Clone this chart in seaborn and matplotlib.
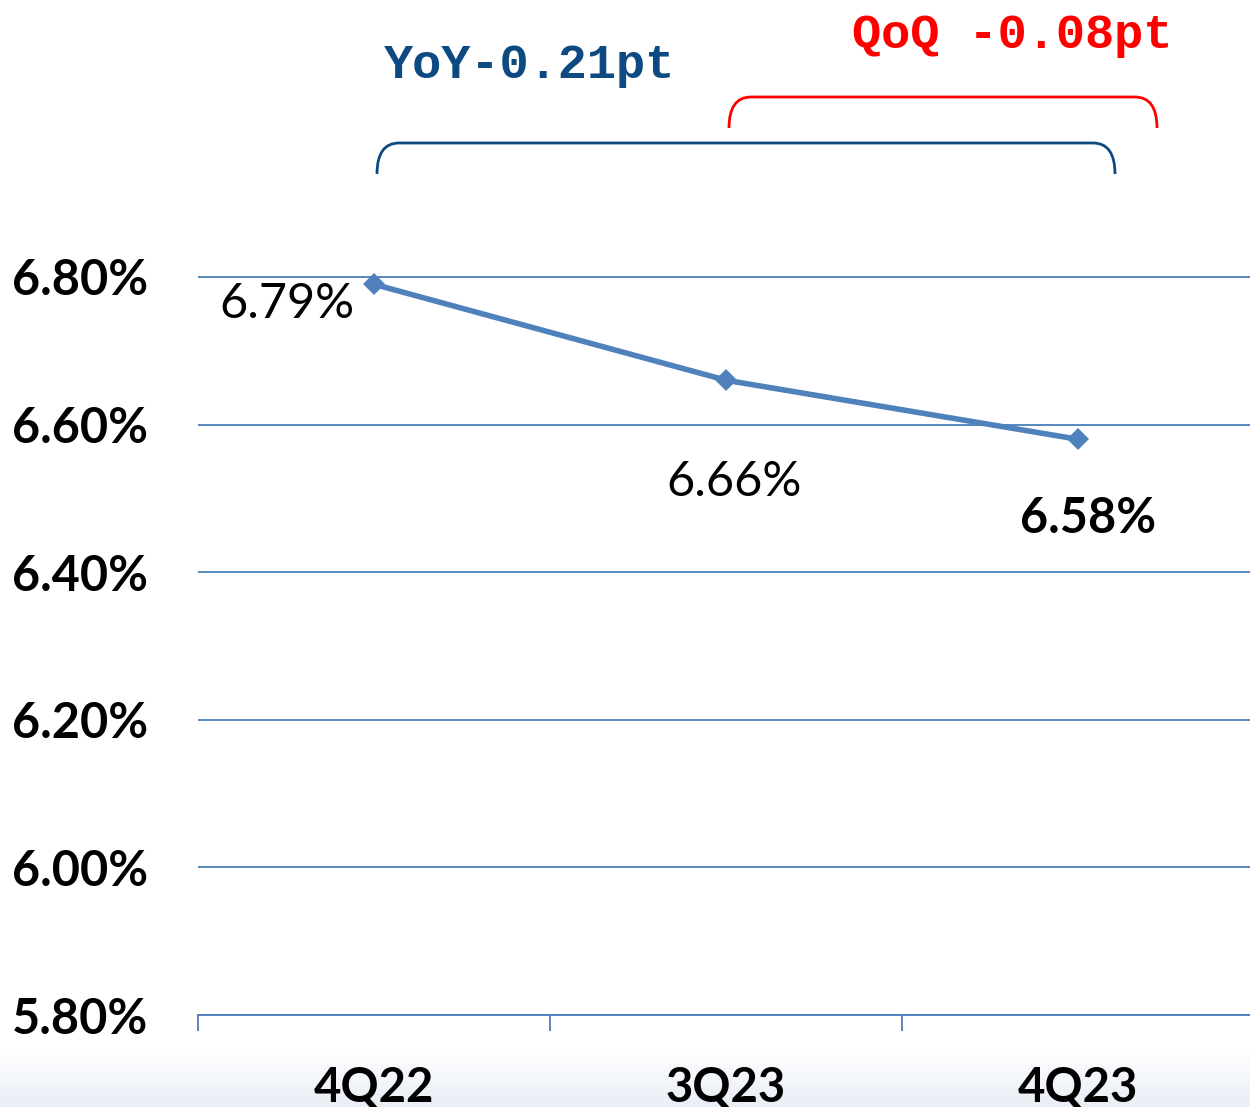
import matplotlib
matplotlib.use("Agg")
import matplotlib.pyplot as plt
import matplotlib.path as mpath
import matplotlib.patches as mpatches
import seaborn as sns
import pandas as pd
import numpy as np

# data
quarters = ["4Q22", "3Q23", "4Q23"]
ratio = [6.79, 6.66, 6.58]
yticks = [5.8, 6.0, 6.2, 6.4, 6.6, 6.8]
yoy_text = "YoY-0.21pt"
qoq_text = "QoQ -0.08pt"

sns.set_style("white")
plt.rcParams['font.family'] = ['Lato', 'DejaVu Sans']

W, H = 1250, 1107
fig = plt.figure(figsize=(W / 100, H / 100), dpi=100)

# soft gradient band at the bottom
bg = fig.add_axes([0, 0, 1, 60 / H])
grad = np.linspace(0, 1, 100).reshape(-1, 1)
bg.imshow(grad, aspect="auto", cmap=matplotlib.colors.LinearSegmentedColormap.from_list(
    "g", ["#ffffff", "#e9eef6"]), origin="upper", extent=[0, 1, 0, 1])
bg.set_axis_off()
bg.set_zorder(0)


def fx(px):
    return px / W


def fy(py):
    return 1 - py / H


ax = fig.add_axes([fx(198), fy(1015), fx(1254) - fx(198), fy(240) - fy(1015)])
ax.set_zorder(1)
ax.patch.set_alpha(0)

df = pd.DataFrame({"quarter": quarters, "ratio": ratio})
sns.lineplot(data=df, x="quarter", y="ratio", ax=ax, color="#4F81BD", linewidth=4,
             marker="D", markersize=11, markeredgewidth=0, sort=False, clip_on=False)

ax.set_xlim(-0.5, 2.5)
ax.set_ylim(5.8, 6.85)
ax.set_yticks(yticks)
ax.set_yticklabels([f"{v:.2f}%" for v in yticks], fontsize=35, fontweight="bold", color="black")
ax.set_xticks([0, 1, 2])
ax.set_xticklabels(quarters, fontsize=34, fontweight="bold", color="black")
ax.set_xlabel("")
ax.set_ylabel("")
ax.grid(axis="y", color="#4A7EBB", linewidth=1.3)
ax.grid(axis="x", visible=False)
for s in ["top", "right", "left"]:
    ax.spines[s].set_visible(False)
ax.spines["bottom"].set_color("#4A7EBB")
ax.spines["bottom"].set_linewidth(1.3)
ax.tick_params(axis="y", length=0, pad=36)
ax.tick_params(axis="x", which="major", length=0, pad=36)
# category boundary ticks
ax.set_xticks([-0.5, 0.5, 1.5, 2.5], minor=True)
ax.tick_params(axis="x", which="minor", bottom=True, length=11.5, width=1.3,
               color="#4A7EBB", direction="out")

# data labels
offsets = [(-63, -14), (6, -73), (7, -57)]
weights = ["normal", "normal", "bold"]
for i, (v, off, w) in enumerate(zip(ratio, offsets, weights)):
    ax.annotate(f"{v:.2f}%", (i, v), xytext=off, textcoords="offset points",
                ha="center", va="center", fontsize=35, fontweight=w, color="black")

# header texts
mono = ["Liberation Mono", "DejaVu Sans Mono"]
fig.text(fx(530), fy(65), yoy_text, ha="center", va="center", fontsize=35,
         family=mono, fontweight="bold", color="#0D4A82")
fig.text(fx(1012), fy(36), qoq_text, ha="center", va="center", fontsize=35,
         family=mono, fontweight="bold", color="#FF0000")


def bracket(x0, x1, ytop, ybot, color, r=22):
    pts = [(x0, ybot), (x0, ytop), (x0 + r, ytop),
           (x1 - r, ytop), (x1, ytop), (x1, ybot)]
    codes = [mpath.Path.MOVETO, mpath.Path.CURVE3, mpath.Path.CURVE3,
             mpath.Path.LINETO, mpath.Path.CURVE3, mpath.Path.CURVE3]
    verts = [(fx(x), fy(y)) for x, y in pts]
    patch = mpatches.PathPatch(mpath.Path(verts, codes), fill=False, edgecolor=color,
                               linewidth=2, transform=fig.transFigure)
    fig.add_artist(patch)


bracket(377, 1115, 143, 174, "#0D4A82")
bracket(729, 1157, 97, 128, "#FF0000")

fig.savefig("out.png", dpi=100)
